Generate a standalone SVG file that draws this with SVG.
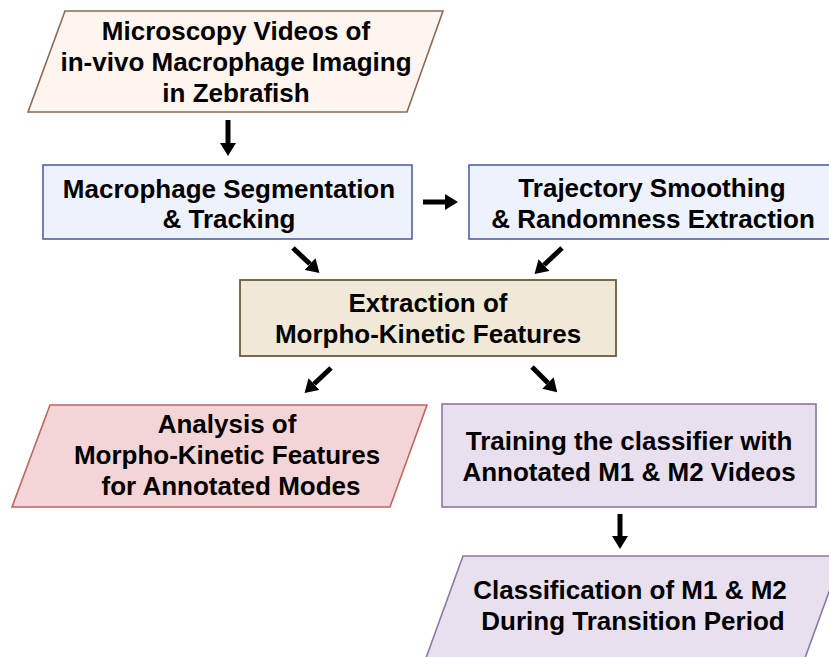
<svg xmlns="http://www.w3.org/2000/svg" width="829" height="657" viewBox="0 0 829 657">
<defs>
<style>
text{font-family:"Liberation Sans",Arial,sans-serif;font-weight:bold;font-size:26px;fill:#000;text-anchor:middle}
.ln{stroke:#000;stroke-width:5;fill:none;marker-end:url(#ah)}
</style>
<marker id="ah" markerUnits="userSpaceOnUse" markerWidth="14" markerHeight="16" refX="0" refY="8" orient="auto">
<path d="M0,0 L13,8 L0,16 z" fill="#000"/>
</marker>
</defs>
<rect width="829" height="657" fill="#fff"/>
<g id="n1">
<polygon points="65,11 443,11 407,112 28,112" fill="#fdf5ee" stroke="#8b6b55" stroke-width="1.6"/>
<text x="236" y="40">Microscopy Videos of</text>
<text x="236" y="71">in-vivo Macrophage Imaging</text>
<text x="236" y="102">in Zebrafish</text>
</g>
<g id="n2">
<rect x="43" y="165" width="369" height="74" fill="#eef2fc" stroke="#5062aa" stroke-width="1.6"/>
<text x="229" y="198">Macrophage Segmentation</text>
<text x="229" y="228">&amp; Tracking</text>
</g>
<g id="n3">
<rect x="469" y="165" width="366" height="74" fill="#eef2fc" stroke="#5062aa" stroke-width="1.6"/>
<text x="652" y="197">Trajectory Smoothing</text>
<text x="653" y="228">&amp; Randomness Extraction</text>
</g>
<g id="n4">
<rect x="240" y="280" width="376" height="76" fill="#f1e9d7" stroke="#6e5a3a" stroke-width="1.8"/>
<text x="428" y="312">Extraction of</text>
<text x="428" y="343">Morpho-Kinetic Features</text>
</g>
<g id="n5">
<polygon points="50,405 427,405 390,507 12,507" fill="#f4d5d7" stroke="#c0645e" stroke-width="1.6"/>
<text x="227" y="433">Analysis of</text>
<text x="227" y="464">Morpho-Kinetic Features</text>
<text x="231" y="495">for Annotated Modes</text>
</g>
<g id="n6">
<rect x="442" y="404" width="374" height="103" fill="#e8e0ee" stroke="#8a79a6" stroke-width="1.6"/>
<text x="629" y="450">Training the classifier with</text>
<text x="629" y="481">Annotated M1 &amp; M2 Videos</text>
</g>
<g id="n7">
<polygon points="463,556 842,556 805,658 426,658" fill="#e8e0ee" stroke="#8a79a6" stroke-width="1.6"/>
<text x="630" y="599">Classification of M1 &amp; M2</text>
<text x="633" y="630">During Transition Period</text>
</g>
<g id="connectors">
<line class="ln" x1="228" y1="120" x2="228" y2="143"/>
<line class="ln" x1="423" y1="202" x2="445" y2="202"/>
<line class="ln" x1="293" y1="248" x2="310" y2="264"/>
<line class="ln" x1="562" y1="248" x2="544" y2="265"/>
<line class="ln" x1="331" y1="368" x2="314" y2="384"/>
<line class="ln" x1="532" y1="367" x2="548" y2="383"/>
<line class="ln" x1="620" y1="514" x2="620" y2="536"/>
</g>
</svg>
